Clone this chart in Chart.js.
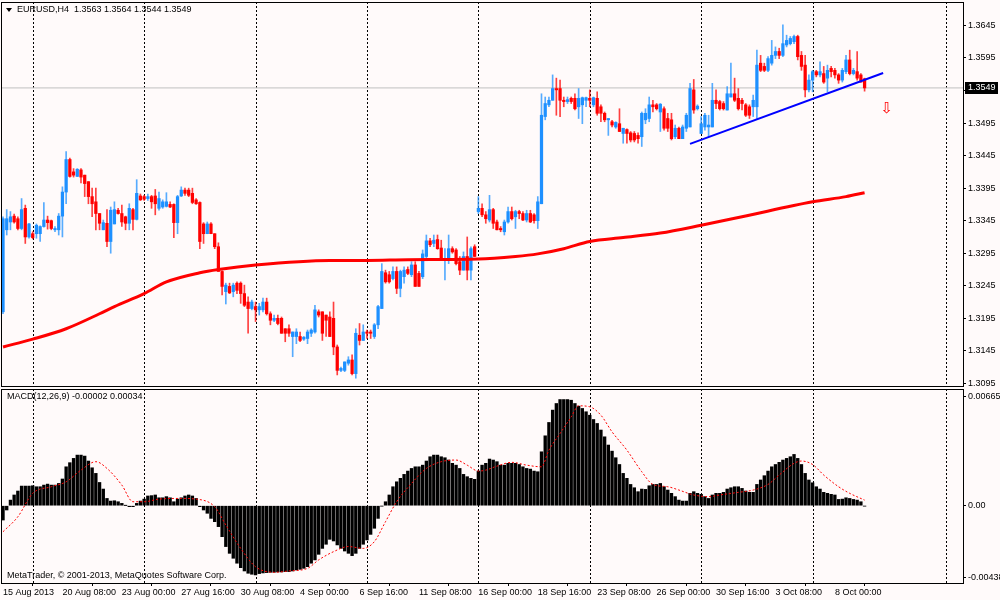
<!DOCTYPE html>
<html>
<head>
<meta charset="utf-8">
<script src="https://cdn.jsdelivr.net/npm/chart.js@4.4.0/dist/chart.umd.min.js"></script>
<style>
  html, body { margin: 0; padding: 0; background: #fffafa; }
  #wrap { position: relative; width: 1000px; height: 600px; overflow: hidden; }
  canvas { position: absolute; left: 0; }
  #mainChart { top: 0; }
  #macdChart { top: 388px; }
</style>
</head>
<body>
<div id="wrap">
  <canvas id="mainChart" width="1000" height="388"></canvas>
  <canvas id="macdChart" width="1000" height="212"></canvas>
</div>
<script>
// EURUSD H4 candles, 15 Aug 2013 16:00 .. 9 Oct 2013 08:00
const symbol = 'EURUSD';
const period = 'H4';

const opens = [
  1.3205,1.3331,1.3343,1.3352,1.3348,1.3333,1.3364,1.3320,1.3325,1.3325,
  1.3325,1.3336,1.3346,1.3345,1.3331,1.3331,1.3352,1.3389,1.3439,1.3420,
  1.3413,1.3423,1.3415,1.3405,1.3382,1.3374,1.3356,1.3331,1.3341,1.3313,
  1.3340,1.3361,1.3356,1.3351,1.3341,1.3362,1.3347,1.3383,1.3382,1.3379,
  1.3382,1.3383,1.3364,1.3366,1.3367,1.3370,1.3370,1.3342,1.3383,1.3392,
  1.3392,1.3387,1.3377,1.3373,1.3340,1.3325,1.3340,1.3325,1.3305,1.3267,
  1.3236,1.3244,1.3236,1.3249,1.3249,1.3233,1.3220,1.3210,1.3213,1.3208,
  1.3208,1.3220,1.3202,1.3192,1.3195,1.3195,1.3179,1.3179,1.3167,1.3167,
  1.3167,1.3163,1.3164,1.3172,1.3174,1.3205,1.3205,1.3200,1.3197,1.3195,
  1.3151,1.3115,1.3115,1.3126,1.3131,1.3110,1.3169,1.3161,1.3174,1.3174,
  1.3167,1.3185,1.3210,1.3265,1.3262,1.3256,1.3267,1.3241,1.3259,1.3270,
  1.3262,1.3277,1.3264,1.3259,1.3290,1.3314,1.3310,1.3316,1.3303,1.3285,
  1.3287,1.3302,1.3300,1.3282,1.3269,1.3290,1.3269,1.3305,1.3359,1.3364,
  1.3354,1.3346,1.3362,1.3343,1.3333,1.3328,1.3343,1.3359,1.3351,1.3359,
  1.3356,1.3346,1.3356,1.3354,1.3345,1.3371,1.3505,1.3523,1.3530,1.3548,
  1.3548,1.3530,1.3528,1.3533,1.3533,1.3520,1.3523,1.3530,1.3533,1.3523,
  1.3533,1.3520,1.3510,1.3500,1.3497,1.3489,1.3494,1.3479,1.3485,1.3480,
  1.3479,1.3476,1.3474,1.3500,1.3502,1.3523,1.3523,1.3512,1.3517,1.3502,
  1.3500,1.3474,1.3487,1.3471,1.3487,1.3489,1.3546,1.3517,1.3479,1.3489,
  1.3489,1.3489,1.3530,1.3528,1.3525,1.3515,1.3535,1.3540,1.3533,1.3530,
  1.3523,1.3520,1.3520,1.3520,1.3587,1.3582,1.3576,1.3587,1.3599,1.3605,
  1.3599,1.3615,1.3617,1.3620,1.3628,1.3599,1.3584,1.3546,1.3561,1.3574,
  1.3569,1.3571,1.3564,1.3579,1.3576,1.3569,1.3561,1.3574,1.3592,1.3571,
  1.3574,1.3569,1.3563
];
const highs = [
  1.3351,1.3362,1.3359,1.3355,1.3351,1.3379,1.3369,1.3341,1.3328,1.3340,
  1.3337,1.3373,1.3352,1.3346,1.3336,1.3356,1.3397,1.3451,1.3441,1.3425,
  1.3425,1.3425,1.3415,1.3405,1.3395,1.3395,1.3356,1.3346,1.3362,1.3366,
  1.3374,1.3364,1.3369,1.3352,1.3371,1.3364,1.3408,1.3386,1.3384,1.3386,
  1.3384,1.3393,1.3389,1.3377,1.3388,1.3374,1.3371,1.3384,1.3397,1.3395,
  1.3395,1.3395,1.3379,1.3374,1.3342,1.3343,1.3342,1.3325,1.3311,1.3268,
  1.3249,1.3249,1.3249,1.3251,1.3251,1.3246,1.3228,1.3223,1.3220,1.3218,
  1.3226,1.3226,1.3205,1.3200,1.3200,1.3197,1.3179,1.3185,1.3174,1.3179,
  1.3174,1.3167,1.3177,1.3179,1.3215,1.3208,1.3205,1.3200,1.3205,1.3220,
  1.3154,1.3120,1.3128,1.3136,1.3139,1.3179,1.3187,1.3185,1.3177,1.3177,
  1.3187,1.3215,1.3279,1.3269,1.3267,1.3274,1.3274,1.3269,1.3274,1.3274,
  1.3282,1.3282,1.3267,1.3300,1.3323,1.3318,1.3323,1.3323,1.3315,1.3302,
  1.3323,1.3305,1.3302,1.3290,1.3297,1.3320,1.3305,1.3308,1.3382,1.3371,
  1.3359,1.3384,1.3364,1.3346,1.3336,1.3346,1.3366,1.3366,1.3361,1.3361,
  1.3359,1.3361,1.3361,1.3356,1.3382,1.3540,1.3535,1.3535,1.3569,1.3564,
  1.3561,1.3535,1.3535,1.3535,1.3540,1.3548,1.3535,1.3535,1.3546,1.3535,
  1.3543,1.3523,1.3512,1.3502,1.3499,1.3497,1.3517,1.3487,1.3486,1.3482,
  1.3482,1.3480,1.3512,1.3517,1.3535,1.3530,1.3525,1.3525,1.3520,1.3510,
  1.3510,1.3492,1.3489,1.3492,1.3510,1.3556,1.3562,1.3523,1.3505,1.3510,
  1.3507,1.3556,1.3546,1.3530,1.3528,1.3551,1.3587,1.3564,1.3548,1.3533,
  1.3525,1.3523,1.3538,1.3607,1.3599,1.3587,1.3597,1.3622,1.3612,1.3610,
  1.3646,1.3630,1.3628,1.3630,1.3630,1.3605,1.3599,1.3569,1.3576,1.3576,
  1.3589,1.3582,1.3584,1.3582,1.3579,1.3571,1.3579,1.3599,1.3607,1.3579,
  1.3605,1.3571,1.3564
];
const lows = [
  1.3202,1.3323,1.3331,1.3341,1.3331,1.3331,1.3310,1.3318,1.3317,1.3318,
  1.3313,1.3335,1.3332,1.3331,1.3328,1.3323,1.3320,1.3371,1.3412,1.3412,
  1.3413,1.3403,1.3382,1.3371,1.3351,1.3331,1.3331,1.3331,1.3305,1.3295,
  1.3340,1.3355,1.3336,1.3331,1.3331,1.3331,1.3346,1.3376,1.3376,1.3376,
  1.3364,1.3354,1.3361,1.3364,1.3366,1.3365,1.3319,1.3325,1.3382,1.3384,
  1.3382,1.3371,1.3370,1.3302,1.3310,1.3325,1.3325,1.3302,1.3267,1.3231,
  1.3217,1.3233,1.3228,1.3233,1.3218,1.3213,1.3172,1.3208,1.3190,1.3200,
  1.3205,1.3200,1.3185,1.3190,1.3185,1.3172,1.3159,1.3167,1.3136,1.3156,
  1.3159,1.3161,1.3156,1.3167,1.3172,1.3197,1.3161,1.3167,1.3167,1.3139,
  1.3108,1.3113,1.3113,1.3123,1.3108,1.3103,1.3154,1.3161,1.3164,1.3164,
  1.3164,1.3179,1.3210,1.3249,1.3249,1.3254,1.3233,1.3228,1.3249,1.3262,
  1.3259,1.3244,1.3244,1.3256,1.3287,1.3305,1.3305,1.3301,1.3285,1.3254,
  1.3279,1.3295,1.3277,1.3262,1.3269,1.3254,1.3254,1.3290,1.3356,1.3351,
  1.3341,1.3343,1.3333,1.3331,1.3328,1.3323,1.3341,1.3346,1.3333,1.3348,
  1.3345,1.3343,1.3342,1.3341,1.3333,1.3371,1.3500,1.3520,1.3530,1.3507,
  1.3505,1.3520,1.3525,1.3525,1.3515,1.3502,1.3494,1.3520,1.3520,1.3520,
  1.3507,1.3497,1.3497,1.3476,1.3489,1.3487,1.3482,1.3464,1.3464,1.3466,
  1.3466,1.3464,1.3459,1.3494,1.3497,1.3512,1.3515,1.3482,1.3484,1.3482,
  1.3469,1.3471,1.3471,1.3471,1.3482,1.3489,1.3510,1.3515,1.3479,1.3484,
  1.3474,1.3489,1.3517,1.3515,1.3515,1.3515,1.3535,1.3528,1.3515,1.3515,
  1.3505,1.3502,1.3505,1.3502,1.3574,1.3574,1.3574,1.3584,1.3594,1.3594,
  1.3597,1.3612,1.3615,1.3617,1.3592,1.3576,1.3535,1.3543,1.3543,1.3566,
  1.3566,1.3556,1.3543,1.3566,1.3564,1.3556,1.3558,1.3571,1.3569,1.3569,
  1.3561,1.3558,1.3544
];
const closes = [
  1.3348,1.3348,1.3351,1.3343,1.3333,1.3362,1.3320,1.3340,1.3319,1.3338,
  1.3336,1.3346,1.3342,1.3333,1.3333,1.3352,1.3389,1.3439,1.3413,1.3415,
  1.3424,1.3412,1.3402,1.3382,1.3371,1.3356,1.3341,1.3342,1.3313,1.3361,
  1.3362,1.3356,1.3343,1.3341,1.3364,1.3347,1.3387,1.3377,1.3378,1.3382,
  1.3374,1.3371,1.3379,1.3374,1.3374,1.3366,1.3342,1.3382,1.3392,1.3387,
  1.3384,1.3373,1.3371,1.3313,1.3325,1.3340,1.3325,1.3305,1.3267,1.3244,
  1.3246,1.3234,1.3246,1.3238,1.3233,1.3215,1.3210,1.3220,1.3208,1.3213,
  1.3220,1.3202,1.3192,1.3195,1.3187,1.3172,1.3172,1.3172,1.3174,1.3174,
  1.3161,1.3166,1.3174,1.3177,1.3208,1.3200,1.3172,1.3192,1.3167,1.3151,
  1.3115,1.3118,1.3128,1.3131,1.3110,1.3172,1.3161,1.3174,1.3172,1.3172,
  1.3185,1.3213,1.3267,1.3251,1.3251,1.3267,1.3241,1.3267,1.3269,1.3264,
  1.3277,1.3244,1.3244,1.3294,1.3314,1.3308,1.3315,1.3302,1.3285,1.3287,
  1.3302,1.3297,1.3279,1.3269,1.3290,1.3269,1.3302,1.3290,1.3364,1.3354,
  1.3348,1.3362,1.3341,1.3331,1.3331,1.3343,1.3359,1.3348,1.3359,1.3356,
  1.3346,1.3356,1.3343,1.3345,1.3374,1.3507,1.3525,1.3530,1.3548,1.3546,
  1.3530,1.3528,1.3531,1.3528,1.3517,1.3533,1.3534,1.3534,1.3530,1.3534,
  1.3510,1.3510,1.3500,1.3502,1.3492,1.3496,1.3482,1.3487,1.3479,1.3469,
  1.3469,1.3471,1.3510,1.3510,1.3523,1.3520,1.3517,1.3524,1.3487,1.3487,
  1.3471,1.3487,1.3471,1.3489,1.3507,1.3548,1.3515,1.3521,1.3494,1.3507,
  1.3492,1.3530,1.3525,1.3517,1.3517,1.3540,1.3540,1.3530,1.3517,1.3525,
  1.3507,1.3507,1.3530,1.3584,1.3576,1.3576,1.3594,1.3599,1.3605,1.3599,
  1.3617,1.3622,1.3625,1.3628,1.3597,1.3582,1.3546,1.3561,1.3574,1.3569,
  1.3574,1.3558,1.3576,1.3574,1.3569,1.3561,1.3576,1.3592,1.3571,1.3576,
  1.3564,1.3558,1.3549
];

// moving average (red), read at these bars
const maIdx = [0, 8, 17, 26, 30, 38, 44, 53, 58, 68, 88, 98, 109, 128, 138, 144, 151, 158, 167, 177, 188, 199, 218, 227, 232];
const maVal = [1.3151, 1.3163, 1.3179, 1.3202, 1.3213, 1.3233, 1.3251, 1.3265, 1.3270, 1.3277, 1.3284, 1.3284, 1.3285, 1.3286, 1.3290, 1.3294, 1.3302, 1.3313, 1.3319, 1.3326, 1.3338, 1.3351, 1.3374, 1.3382, 1.3388];

// hand drawn trend line and sell arrow
const trendIdx = [185, 237];
const trendVal = [1.3463, 1.3572];
const arrowIdx = 238;
const arrowPrice = 1.3516;

// MACD(12,26,9) histogram per bar
const macdHist = [
  -0.00087,-0.00026,0.00034,0.00065,0.00089,0.00119,0.00119,0.00119,0.00121,0.00115,
  0.00115,0.00125,0.00131,0.00125,0.00125,0.00135,0.00162,0.00236,0.00261,0.00287,
  0.00307,0.00307,0.00301,0.00271,0.00230,0.00196,0.00141,0.00101,0.00044,0.00028,
  0.00030,0.00024,0.00014,0.00001,-0.00006,-0.00006,0.00014,0.00028,0.00040,0.00059,
  0.00061,0.00065,0.00048,0.00048,0.00055,0.00048,0.00024,0.00040,0.00048,0.00059,
  0.00065,0.00059,0.00044,-0.00006,-0.00026,-0.00046,-0.00077,-0.00097,-0.00127,-0.00188,
  -0.00248,-0.00289,-0.00319,-0.00349,-0.00376,-0.00396,-0.00410,-0.00416,-0.00420,-0.00412,
  -0.00408,-0.00406,-0.00404,-0.00404,-0.00402,-0.00402,-0.00400,-0.00400,-0.00396,-0.00390,
  -0.00386,-0.00380,-0.00370,-0.00349,-0.00329,-0.00295,-0.00259,-0.00234,-0.00204,-0.00214,
  -0.00238,-0.00259,-0.00275,-0.00289,-0.00303,-0.00289,-0.00259,-0.00234,-0.00208,-0.00174,
  -0.00137,-0.00077,-0.00002,0.00024,0.00065,0.00115,0.00145,0.00166,0.00190,0.00210,
  0.00226,0.00236,0.00236,0.00246,0.00271,0.00297,0.00307,0.00307,0.00297,0.00291,
  0.00277,0.00257,0.00246,0.00226,0.00190,0.00176,0.00166,0.00160,0.00210,0.00246,
  0.00257,0.00283,0.00277,0.00267,0.00246,0.00246,0.00257,0.00257,0.00257,0.00250,
  0.00236,0.00226,0.00222,0.00210,0.00206,0.00327,0.00424,0.00505,0.00580,0.00620,
  0.00644,0.00644,0.00644,0.00640,0.00620,0.00604,0.00590,0.00570,0.00549,0.00523,
  0.00499,0.00459,0.00418,0.00368,0.00331,0.00291,0.00250,0.00196,0.00166,0.00129,
  0.00109,0.00085,0.00101,0.00099,0.00121,0.00129,0.00129,0.00135,0.00115,0.00095,
  0.00075,0.00055,0.00034,0.00028,0.00028,0.00075,0.00085,0.00075,0.00069,0.00055,
  0.00044,0.00065,0.00075,0.00075,0.00081,0.00101,0.00109,0.00115,0.00115,0.00105,
  0.00089,0.00081,0.00081,0.00129,0.00156,0.00182,0.00210,0.00236,0.00250,0.00263,
  0.00277,0.00287,0.00297,0.00311,0.00287,0.00250,0.00196,0.00156,0.00139,0.00115,
  0.00101,0.00081,0.00075,0.00069,0.00065,0.00038,0.00040,0.00048,0.00044,0.00038,
  0.00034,0.00024,-0.00002
];

// MACD signal line (red dotted), read at these bars
const sigIdx = [0,4,8,13,17,21,25,28,32,35,38,42,48,52,57,60,64,68,73,77,82,85,89,93,97,100,103,106,110,114,118,122,125,128,130,133,137,141,145,147,150,153,155,158,161,164,168,172,175,179,182,186,190,193,198,202,206,209,213,215,218,221,225,228,232];
const sigVal = [-0.00158,-0.00067,0.00075,0.00115,0.00145,0.00216,0.00267,0.00226,0.00125,0.00024,0.00024,0.00040,0.00044,0.00040,-0.00006,-0.00117,-0.00259,-0.00370,-0.00404,-0.00396,-0.00380,-0.00329,-0.00279,-0.00248,-0.00259,-0.00218,-0.00097,0.00024,0.00135,0.00226,0.00267,0.00277,0.00246,0.00210,0.00216,0.00240,0.00263,0.00246,0.00236,0.00337,0.00438,0.00539,0.00606,0.00600,0.00549,0.00448,0.00337,0.00206,0.00129,0.00115,0.00095,0.00065,0.00055,0.00065,0.00081,0.00095,0.00129,0.00186,0.00257,0.00271,0.00250,0.00186,0.00115,0.00075,0.00034];

// axes
const timeTickIdx = [0,16,32,48,64,80,96,112,128,144,160,176,192,208,224];
const timeTickLabels = ['15 Aug 2013','20 Aug 08:00','23 Aug 00:00','27 Aug 16:00','30 Aug 08:00','4 Sep 00:00','6 Sep 16:00','11 Sep 08:00','16 Sep 00:00','18 Sep 16:00','23 Sep 08:00','26 Sep 00:00','30 Sep 16:00','3 Oct 08:00','8 Oct 00:00'];
const weekIdx = [8, 38, 68, 98, 128, 158, 188, 218, 254];
const priceTicks = [1.3095,1.3145,1.3195,1.3245,1.3295,1.3345,1.3395,1.3445,1.3495,1.3545,1.3595,1.3645];
const macdTicks = [0.00665, 0, -0.00438];
const macdTickLabels = ['0.00665', '0.00', '-0.00438'];

const UP = '#1e90ff';
const DOWN = '#ff0000';
const FONT = '"Liberation Sans", Arial, sans-serif';
Chart.defaults.font.family = FONT;
Chart.defaults.font.size = 9;
Chart.defaults.color = '#000';

const X_MIN = -0.54, X_MAX = 258.5;
const last = closes.length - 1;
const isUp = closes.map((c, i) => c >= opens[i]);

// keep the plot box fixed: no extra room for half-labels
function noPad(s) {
  s.paddingTop = 0; s.paddingBottom = 0; s.paddingLeft = 0; s.paddingRight = 0;
}

const frame = {
  id: 'frame',
  beforeDraw(chart) {
    const { ctx, width, height } = chart;
    ctx.save();
    ctx.fillStyle = '#fffafa';
    ctx.fillRect(0, 0, width, height);
    ctx.restore();
  },
  beforeDatasetsDraw(chart) {
    const { ctx, chartArea: a, scales: { x } } = chart;
    ctx.save();
    ctx.strokeStyle = '#000';
    ctx.lineWidth = 1;
    ctx.setLineDash([2, 2]);
    weekIdx.forEach(i => {
      const px = Math.round(x.getPixelForValue(i)) + 0.5;
      ctx.beginPath();
      ctx.moveTo(px, a.top);
      ctx.lineTo(px, a.bottom);
      ctx.stroke();
    });
    ctx.restore();
  },
  afterDraw(chart) {
    const { ctx, chartArea: a } = chart;
    ctx.save();
    ctx.strokeStyle = '#000';
    ctx.lineWidth = 1;
    ctx.strokeRect(a.left + 0.5, a.top + 0.5, a.right - a.left, a.bottom - a.top);
    ctx.restore();
  }
};

const mainLabels = {
  id: 'mainLabels',
  afterDraw(chart) {
    const { ctx, scales: { x, y } } = chart;
    ctx.save();
    // header
    ctx.fillStyle = '#000';
    ctx.beginPath();
    ctx.moveTo(6, 8); ctx.lineTo(12, 8); ctx.lineTo(9, 12); ctx.closePath();
    ctx.fill();
    ctx.font = '9px ' + FONT;
    ctx.textBaseline = 'middle';
    ctx.fillText(symbol + ',' + period + '  ' + opens[last].toFixed(4) + ' ' + highs[last].toFixed(4) + ' ' +
      lows[last].toFixed(4) + ' ' + closes[last].toFixed(4), 17, 10);
    // bid price tag
    const py = Math.round(y.getPixelForValue(closes[last]));
    ctx.fillRect(965, py - 6, 33, 12);
    ctx.fillStyle = '#fff';
    ctx.fillText(closes[last].toFixed(4), 968, py);
    // sell arrow
    ctx.fillStyle = DOWN;
    ctx.font = '15px "DejaVu Sans"';
    ctx.textAlign = 'center';
    ctx.fillText('\u21e9', x.getPixelForValue(arrowIdx), y.getPixelForValue(arrowPrice));
    ctx.restore();
  }
};

const macdLabels = {
  id: 'macdLabels',
  afterDraw(chart) {
    const { ctx } = chart;
    ctx.save();
    ctx.fillStyle = '#000';
    ctx.font = '9px ' + FONT;
    ctx.textBaseline = 'middle';
    ctx.fillText('MACD(12,26,9) ' + macdHist[last].toFixed(5) + ' ' + sigVal[sigVal.length - 1].toFixed(5), 7, 9);
    ctx.fillText('MetaTrader, \u00a9 2001-2013, MetaQuotes Software Corp.', 7, 188);
    ctx.restore();
  }
};

new Chart(document.getElementById('mainChart'), {
  type: 'bar',
  data: {
    datasets: [
      {
        type: 'line', order: 0,
        data: trendIdx.map((v, i) => ({ x: v, y: trendVal[i] })),
        borderColor: '#0000ff', borderWidth: 2, pointRadius: 0
      },
      {
        type: 'line', order: 1,
        data: maIdx.map((v, i) => ({ x: v, y: maVal[i] })),
        borderColor: '#ff0000', borderWidth: 3, pointRadius: 0,
        cubicInterpolationMode: 'monotone'
      },
      {
        order: 2, grouped: false, barThickness: 2.6, minBarLength: 1,
        data: opens.map((o, i) => ({ x: i, y: [Math.min(o, closes[i]), Math.max(o, closes[i])] })),
        backgroundColor: isUp.map(u => u ? UP : DOWN)
      },
      {
        order: 3, grouped: false, barThickness: 1,
        data: lows.map((l, i) => ({ x: i, y: [l, highs[i]] })),
        backgroundColor: isUp.map(u => u ? 'rgba(30,144,255,0.75)' : 'rgba(255,0,0,0.75)')
      },
      {
        type: 'line', order: 4,
        data: [{ x: X_MIN, y: closes[last] }, { x: X_MAX, y: closes[last] }],
        borderColor: '#c0c0c0', borderWidth: 1, pointRadius: 0
      }
    ]
  },
  options: {
    responsive: false,
    animation: false,
    layout: { padding: { left: 1, top: 2, right: 0, bottom: 2 } },
    plugins: { legend: { display: false }, tooltip: { enabled: false } },
    scales: {
      x: { type: 'linear', min: X_MIN, max: X_MAX, offset: false, display: false },
      y: {
        position: 'right', min: 1.3091, max: 1.3681,
        afterFit(s) { s.width = 37; noPad(s); },
        afterBuildTicks(s) { s.ticks = priceTicks.map(v => ({ value: v })); },
        ticks: { callback: v => v.toFixed(4), padding: 2, autoSkip: false },
        grid: { drawOnChartArea: false, tickLength: 3, color: '#000' },
        border: { display: false }
      }
    }
  },
  plugins: [frame, mainLabels]
});

new Chart(document.getElementById('macdChart'), {
  type: 'bar',
  data: {
    datasets: [
      {
        type: 'line', order: 0,
        data: sigIdx.map((v, i) => ({ x: v, y: sigVal[i] })),
        borderColor: '#ff0000', borderWidth: 1, borderDash: [2, 2], pointRadius: 0,
        cubicInterpolationMode: 'monotone'
      },
      {
        order: 1, grouped: false, barThickness: 2.7,
        data: macdHist.map((v, i) => ({ x: i, y: v })),
        backgroundColor: '#000'
      }
    ]
  },
  options: {
    responsive: false,
    animation: false,
    layout: { padding: { left: 1, top: 1, right: 0, bottom: 0 } },
    plugins: { legend: { display: false }, tooltip: { enabled: false } },
    scales: {
      x: {
        type: 'linear', min: X_MIN, max: X_MAX, offset: false,
        afterFit(s) { s.height = 17; noPad(s); },
        afterBuildTicks(s) { s.ticks = timeTickIdx.map(v => ({ value: v })); },
        ticks: {
          callback: (v) => timeTickLabels[timeTickIdx.indexOf(v)],
          align: 'start', maxRotation: 0, autoSkip: false, padding: 1
        },
        grid: { drawOnChartArea: false, tickLength: 3, color: '#000' },
        border: { display: false }
      },
      y: {
        position: 'right', min: -0.00469, max: 0.00708,
        afterFit(s) { s.width = 37; noPad(s); },
        afterBuildTicks(s) { s.ticks = macdTicks.map(v => ({ value: v })); },
        ticks: { callback: v => macdTickLabels[macdTicks.indexOf(v)], padding: 2, autoSkip: false },
        grid: { drawOnChartArea: false, tickLength: 3, color: '#000' },
        border: { display: false }
      }
    }
  },
  plugins: [frame, macdLabels]
});
</script>
</body>
</html>
